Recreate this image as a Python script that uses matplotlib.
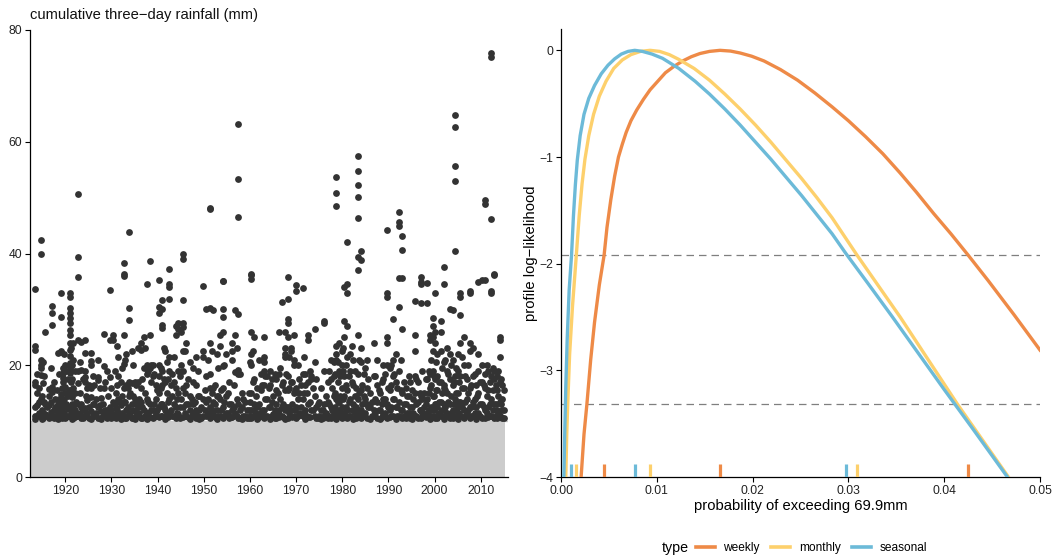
import matplotlib
matplotlib.use("Agg")
import matplotlib.pyplot as plt
from matplotlib.ticker import FormatStrFormatter
from matplotlib.lines import Line2D

plt.rcParams['font.family'] = ['Liberation Sans', 'DejaVu Sans']

# ---- left panel: three-day rainfall totals ----
threshold = 10.0
record_span = [1912.4, 2015.2]

# (decimal year, [three-day totals above threshold]) for the larger wet spells
storms = [
    (1913.5, [33.6, 23.5, 22.8, 17.0, 16.4, 12.5, 11.0, 10.4]),
    (1914.7, [42.5, 40.0, 21.0, 20.1, 19.5, 18.2, 14.0, 10.8]),
    (1915.2, [20.5, 16.8, 11.5, 10.6]),
    (1915.7, [26.0, 13.0, 11.2]),
    (1916.4, [15.8, 14.5, 12.8, 10.5]),
    (1917.2, [30.6, 29.3, 27.2, 16.1, 15.2, 11.0]),
    (1917.8, [14.0, 12.5, 10.9]),
    (1918.4, [22.2, 13.0, 11.6, 10.4]),
    (1919.0, [33.0, 28.6, 22.5, 22.3, 14.9, 12.0, 10.7]),
    (1919.5, [19.5, 18.6, 17.7, 17.0, 13.4, 11.3]),
    (1920.0, [20.0, 16.1, 15.0, 12.5, 10.5]),
    (1920.5, [17.5, 14.5, 12.2, 11.0]),
    (1921.0, [33.0, 32.3, 30.2, 29.3, 28.4, 27.5, 26.3, 25.4, 24.0, 22.8,
              21.6, 20.4, 19.5, 18.6, 14.9, 12.5, 11.0]),
    (1921.5, [20.0, 17.5, 14.3, 13.0, 11.6, 10.3]),
    (1922.0, [19.0, 15.0, 12.0, 10.8]),
    (1922.8, [50.6, 39.4, 35.8, 24.5, 18.9, 16.8, 13.1, 11.0]),
    (1923.4, [24.1, 19.2, 13.1, 12.5, 10.5]),
    (1924.2, [24.5, 22.2, 18.9, 17.9, 17.0, 12.4, 10.9]),
    (1924.8, [16.0, 13.7, 11.5]),
    (1925.6, [22.2, 20.7, 20.1, 15.9, 14.4, 11.8, 10.4]),
    (1926.3, [16.5, 13.1, 11.0]),
    (1927.1, [21.0, 17.9, 17.3, 12.5, 10.6]),
    (1927.8, [14.2, 11.8, 10.3]),
    (1928.4, [25.6, 19.9, 16.0, 11.2]),
    (1929.0, [19.0, 12.0, 10.5]),
    (1929.6, [33.5, 24.5, 17.9, 12.5, 11.0]),
    (1930.3, [25.4, 24.5, 13.5, 11.2]),
    (1931.0, [15.0, 12.3, 10.5]),
    (1931.5, [21.5, 18.0, 14.0, 11.5]),
    (1932.0, [17.0, 12.8, 10.4]),
    (1932.7, [38.3, 36.3, 36.0, 25.5, 20.2, 16.0, 13.5, 11.0]),
    (1933.2, [22.0, 16.5, 12.0, 10.5]),
    (1933.8, [43.9, 30.2, 28.1, 17.0, 14.5, 11.3]),
    (1934.4, [22.5, 16.8, 13.0, 10.6]),
    (1935.0, [17.0, 14.0, 11.8, 10.3]),
    (1935.7, [23.0, 17.0, 12.5, 11.0]),
    (1936.3, [24.0, 22.8, 16.0, 13.5, 10.6]),
    (1937.0, [25.0, 19.5, 12.0]),
    (1937.6, [34.6, 20.0, 18.5, 14.0, 11.5, 10.4]),
    (1938.3, [38.7, 25.5, 19.5, 13.0, 10.8]),
    (1939.0, [20.0, 18.0, 12.0, 10.5]),
    (1939.6, [16.5, 14.0, 11.2]),
    (1940.3, [35.2, 30.5, 29.3, 20.0, 18.0, 15.0, 12.5, 10.7]),
    (1941.0, [31.7, 30.0, 27.2, 26.6, 19.0, 16.5, 13.0, 11.0]),
    (1941.6, [22.5, 17.0, 12.0, 10.4]),
    (1942.5, [37.3, 34.6, 34.0, 31.8, 21.5, 19.0, 14.0, 11.5]),
    (1943.2, [18.5, 14.5, 11.0]),
    (1943.9, [27.0, 25.5, 16.0, 12.5, 10.6]),
    (1944.5, [27.5, 26.5, 19.0, 15.0, 11.2]),
    (1945.5, [39.9, 39.1, 31.7, 27.5, 26.8, 22.5, 19.0, 16.0, 12.5, 10.8]),
    (1946.2, [24.0, 16.5, 13.0, 11.0]),
    (1947.0, [20.5, 14.5, 12.0, 10.4]),
    (1947.7, [19.5, 17.0, 13.0, 11.5]),
    (1948.3, [21.5, 16.5, 12.0, 10.6]),
    (1949.0, [14.5, 12.0, 10.3]),
    (1949.9, [34.2, 22.5, 21.5, 14.0, 11.0]),
    (1950.5, [30.0, 18.0, 13.5, 11.0]),
    (1951.4, [48.2, 47.9, 30.2, 24.0, 18.4, 16.0, 12.5, 10.5]),
    (1952.1, [29.9, 16.0, 13.5, 11.2]),
    (1952.8, [22.0, 14.5, 12.0, 10.4]),
    (1953.5, [25.5, 23.5, 14.0, 11.0]),
    (1954.1, [35.1, 35.0, 30.0, 28.7, 26.0, 19.8, 16.0, 12.5, 10.6]),
    (1954.8, [22.0, 14.5, 11.5]),
    (1955.5, [17.0, 13.0, 10.5]),
    (1956.2, [24.0, 22.5, 21.0, 12.0, 10.8]),
    (1956.8, [29.9, 25.5, 18.8, 11.5]),
    (1957.4, [63.1, 53.4, 46.6, 29.2, 19.1, 18.5, 13.0, 10.5]),
    (1958.2, [15.0, 12.5, 10.4]),
    (1959.0, [13.5, 11.0]),
    (1959.7, [15.0, 12.0, 10.6]),
    (1960.3, [36.3, 36.1, 35.5, 26.0, 22.0, 20.0, 15.0, 12.0, 10.5]),
    (1960.9, [25.0, 17.5, 13.0, 11.0]),
    (1961.6, [16.0, 12.5, 10.4]),
    (1962.3, [18.5, 15.5, 11.5]),
    (1963.0, [25.0, 21.5, 20.5, 19.0, 16.5, 12.0, 10.6]),
    (1963.7, [18.0, 14.0, 11.0]),
    (1964.4, [19.0, 16.5, 12.5, 10.4]),
    (1965.0, [14.5, 11.2]),
    (1965.7, [17.5, 15.5, 13.0, 10.5]),
    (1966.2, [26.0, 18.5, 12.0, 10.8]),
    (1966.9, [31.4, 16.5, 12.5, 11.0]),
    (1967.5, [26.0, 23.0, 22.0, 21.5, 15.5, 12.0, 10.4]),
    (1968.2, [35.8, 31.8, 28.2, 27.5, 25.0, 18.0, 15.5, 12.5, 10.5]),
    (1968.8, [23.0, 22.5, 17.0, 12.0]),
    (1969.5, [25.5, 21.0, 20.0, 15.0, 11.0]),
    (1970.0, [34.3, 33.2, 16.0, 12.5, 10.6]),
    (1970.7, [17.5, 15.0, 11.5]),
    (1971.4, [33.9, 18.5, 14.0, 11.0]),
    (1972.0, [18.5, 16.5, 12.0, 10.4]),
    (1972.6, [25.5, 24.5, 17.0, 13.0, 10.8]),
    (1973.3, [18.0, 17.5, 12.0]),
    (1974.0, [26.5, 20.5, 14.5, 11.0]),
    (1974.7, [13.0, 10.5]),
    (1975.4, [16.0, 12.0, 10.4]),
    (1976.1, [27.9, 27.5, 19.0, 13.0, 11.0]),
    (1976.8, [17.0, 13.5, 10.6]),
    (1977.5, [21.0, 17.5, 12.5, 10.5]),
    (1978.1, [20.5, 18.0, 14.5, 11.5]),
    (1978.7, [53.7, 50.9, 48.5, 23.5, 22.0, 21.0, 14.0, 12.0, 10.4]),
    (1979.3, [24.0, 19.0, 13.5, 11.0]),
    (1979.9, [22.5, 20.0, 16.0, 12.5, 10.6]),
    (1980.4, [34.0, 28.0, 25.0, 18.0, 14.5, 11.5]),
    (1981.1, [42.0, 34.6, 32.9, 27.0, 21.5, 15.5, 12.0, 10.5]),
    (1981.7, [22.0, 19.0, 14.0, 11.0]),
    (1982.3, [21.0, 16.5, 13.0, 10.4]),
    (1983.3, [57.5, 54.8, 52.3, 50.1, 46.3, 39.3, 37.0, 25.5, 18.5, 14.0, 11.5]),
    (1984.0, [40.4, 38.8, 23.0, 20.5, 15.5, 12.0, 10.6]),
    (1984.6, [18.5, 14.5, 11.0]),
    (1985.3, [21.0, 16.0, 13.0, 10.5]),
    (1986.0, [15.0, 12.5, 10.4]),
    (1986.8, [24.0, 18.0, 12.0, 11.0]),
    (1987.5, [21.0, 16.5, 13.5, 10.6]),
    (1988.2, [15.0, 12.0, 10.4]),
    (1988.9, [20.0, 17.5, 14.0, 11.2]),
    (1989.6, [44.2, 33.0, 32.3, 25.0, 24.0, 20.0, 13.0, 10.5]),
    (1990.3, [19.5, 15.5, 12.0, 10.8]),
    (1991.0, [28.2, 21.0, 18.0, 14.0, 11.0]),
    (1991.6, [22.0, 17.0, 12.5, 10.4]),
    (1992.3, [47.5, 45.7, 44.9, 35.7, 30.5, 19.0, 13.5, 11.0]),
    (1993.0, [43.1, 40.6, 35.7, 26.5, 15.0, 12.0, 10.5]),
    (1993.7, [16.0, 13.0, 10.6]),
    (1994.4, [18.0, 14.5, 11.5]),
    (1995.1, [15.5, 12.5, 10.4]),
    (1995.7, [31.5, 25.5, 22.5, 18.0, 15.0, 11.0]),
    (1996.4, [17.0, 13.5, 10.6]),
    (1997.0, [35.8, 34.9, 34.5, 31.2, 14.5, 12.0, 10.5]),
    (1997.7, [15.0, 12.5, 11.0]),
    (1998.4, [34.8, 31.1, 17.5, 14.0, 11.5]),
    (1999.0, [25.5, 24.5, 18.5, 16.0, 12.0, 10.4]),
    (1999.6, [28.5, 27.0, 25.0, 22.5, 19.0, 14.5, 11.0]),
    (2000.0, [32.9, 26.0, 24.0, 17.5, 13.0, 10.6]),
    (2000.6, [22.0, 18.0, 15.5, 12.5, 10.5]),
    (2001.3, [28.0, 26.0, 22.5, 17.0, 13.5, 11.0]),
    (2002.0, [37.5, 34.6, 20.5, 16.0, 12.0, 10.4]),
    (2002.6, [23.0, 19.0, 15.0, 11.5]),
    (2003.3, [30.0, 22.0, 17.5, 13.0, 10.6]),
    (2003.9, [29.9, 21.0, 16.5, 12.0, 10.5]),
    (2004.4, [64.7, 62.6, 55.6, 52.9, 40.4, 18.0, 14.0, 11.0]),
    (2005.0, [22.0, 19.0, 15.0, 12.5, 10.4]),
    (2005.6, [33.0, 32.3, 29.0, 24.0, 18.0, 13.5, 11.0]),
    (2006.3, [25.0, 20.0, 16.0, 12.0, 10.6]),
    (2007.0, [17.5, 14.0, 11.2]),
    (2007.6, [33.3, 32.9, 24.0, 22.5, 16.0, 12.5, 10.5]),
    (2008.3, [23.0, 18.0, 13.5, 11.0]),
    (2009.0, [16.5, 12.5, 10.4]),
    (2009.5, [34.9, 22.0, 19.0, 15.0, 11.5]),
    (2010.3, [35.2, 20.0, 17.0, 13.0, 10.6]),
    (2011.0, [49.6, 48.9, 35.3, 18.5, 16.0, 12.0, 10.5]),
    (2011.6, [19.0, 15.5, 12.5, 10.8]),
    (2012.3, [75.8, 75.2, 46.2, 33.2, 32.9, 18.0, 14.0, 11.0]),
    (2012.9, [36.3, 36.2, 19.0, 17.5, 13.0, 10.5]),
    (2013.5, [18.0, 15.5, 12.0, 10.6]),
    (2014.1, [25.1, 24.5, 21.5, 17.0, 13.5, 11.0]),
    (2014.7, [16.5, 14.0, 12.0, 10.5]),
]

# smaller wet spells that only just clear the threshold
showers = [
    (1913.8, [18.5, 15.0, 12.8, 11.0]), (1914.4, [16.0, 13.5, 11.5]),
    (1915.0, [14.5, 12.0, 10.4]), (1915.45, [18.0, 13.5, 11.0]),
    (1916.0, [12.5, 11.0]), (1916.8, [19.5, 13.5, 11.6]),
    (1917.5, [17.0, 12.0, 10.5]), (1918.1, [15.5, 12.5, 10.8]),
    (1918.7, [18.5, 14.0, 11.2]), (1919.25, [16.0, 12.5, 10.5]),
    (1919.8, [22.0, 14.0, 11.5]), (1920.25, [19.0, 13.0, 10.8]),
    (1920.75, [15.5, 12.5, 11.0]), (1921.25, [23.0, 17.0, 15.5, 12.0]),
    (1921.75, [24.0, 21.0, 16.0, 12.5, 10.5]), (1922.4, [13.5, 11.2]),
    (1923.1, [20.5, 15.0, 11.5]), (1923.8, [17.5, 12.0, 10.6]),
    (1924.5, [14.5, 11.0]), (1925.2, [16.5, 12.5, 10.5]),
    (1925.95, [18.0, 13.0, 11.0]), (1926.7, [14.0, 11.5]),
    (1927.45, [16.0, 12.8, 10.6]), (1928.1, [13.0, 11.0]),
    (1928.7, [17.0, 12.0]), (1929.3, [14.5, 11.2]),
    (1930.0, [16.0, 12.0, 10.5]), (1930.7, [19.0, 13.0, 11.0]),
    (1931.25, [23.5, 16.5, 12.0]), (1931.75, [13.5, 10.8]),
    (1932.35, [19.5, 14.5, 11.5]), (1933.0, [21.0, 13.5, 10.6]),
    (1933.5, [16.0, 12.5, 11.0]), (1934.1, [15.0, 11.5]),
    (1934.75, [20.0, 14.5, 12.0, 10.5]), (1935.35, [16.5, 13.0, 11.0]),
    (1936.0, [14.0, 11.5]), (1936.65, [17.5, 12.5, 10.6]),
    (1937.3, [23.0, 15.0, 11.0]), (1937.95, [19.0, 13.5, 11.5]),
    (1938.65, [20.0, 17.0, 12.0]), (1939.3, [18.5, 13.0, 10.8]),
    (1939.95, [15.5, 12.0]), (1940.65, [19.5, 16.0, 13.0, 11.0]),
    (1941.3, [23.0, 17.5, 12.5]), (1941.95, [20.5, 15.0, 11.5]),
    (1942.2, [17.5, 13.5, 10.8]), (1942.85, [16.5, 12.0]),
    (1943.55, [21.5, 17.0, 13.0, 11.0]), (1944.2, [14.0, 11.5]),
    (1944.85, [18.0, 12.5, 10.6]), (1945.15, [26.0, 20.0, 14.0]),
    (1945.85, [22.5, 15.0, 11.5]), (1946.6, [17.5, 13.0, 10.8]),
    (1947.35, [14.0, 11.0]), (1948.0, [13.5, 11.5]),
    (1948.65, [19.0, 14.5, 11.0]), (1949.45, [12.5, 10.6]),
    (1950.2, [15.5, 12.0]), (1950.85, [21.0, 14.0, 11.5]),
    (1951.75, [22.5, 15.0, 12.0]), (1952.45, [16.5, 13.0, 10.8]),
    (1953.15, [19.5, 14.5, 11.0]), (1953.8, [15.5, 12.0]),
    (1954.45, [20.0, 13.5, 11.0]), (1955.15, [15.0, 11.5]),
    (1955.85, [13.0, 10.8]), (1956.5, [16.5, 12.5]),
    (1957.1, [23.0, 14.0, 11.0]), (1957.8, [18.5, 12.0, 10.5]),
    (1958.6, [14.0, 11.0]), (1959.35, [12.0, 10.6]),
    (1960.0, [20.5, 13.5, 11.0]), (1960.6, [22.5, 17.0, 12.0]),
    (1961.25, [14.5, 11.5]), (1961.95, [21.0, 13.0, 10.8]),
    (1962.65, [16.5, 12.0]), (1963.35, [18.0, 14.0, 11.0]),
    (1964.05, [16.0, 12.5]), (1964.75, [17.5, 13.5, 11.0]),
    (1965.35, [18.5, 12.0, 10.6]), (1966.0, [15.0, 11.5]),
    (1966.55, [19.5, 14.0, 11.0]), (1967.2, [17.0, 13.0, 10.8]),
    (1967.85, [18.5, 12.5]), (1968.5, [21.5, 16.0, 11.5]),
    (1969.15, [17.0, 13.0, 10.8]), (1969.8, [15.5, 12.0]),
    (1970.35, [20.0, 14.0, 11.0]), (1971.05, [16.5, 12.5]),
    (1971.7, [21.5, 15.0, 11.5]), (1972.3, [15.0, 11.0]),
    (1972.95, [19.0, 13.5, 10.8]), (1973.65, [16.0, 12.0]),
    (1974.35, [17.5, 12.5, 10.6]), (1975.05, [13.5, 11.0]),
    (1975.75, [12.0, 10.5]), (1976.45, [14.5, 11.5]),
    (1977.15, [19.0, 13.0, 11.0]), (1977.85, [16.0, 12.0]),
    (1978.4, [18.5, 15.0, 12.5, 11.0]), (1979.0, [20.5, 17.0, 13.5, 11.5]),
    (1979.6, [18.0, 14.5, 12.0]), (1980.15, [23.0, 19.0, 14.0, 11.0]),
    (1980.75, [20.0, 16.5, 12.5]), (1981.4, [18.0, 13.5, 11.0]),
    (1982.0, [23.5, 17.0, 12.0]), (1982.65, [19.0, 14.5, 11.5]),
    (1982.95, [16.0, 12.5, 10.6]), (1983.65, [21.0, 15.0, 12.0]),
    (1984.3, [16.5, 13.0, 11.0]), (1984.95, [19.5, 14.0, 11.5]),
    (1985.65, [17.5, 12.5]), (1986.4, [13.5, 11.0]),
    (1987.15, [18.0, 14.0, 11.5]), (1987.85, [15.5, 12.0]),
    (1988.55, [17.0, 13.0, 10.8]), (1989.25, [18.5, 14.0, 11.5]),
    (1989.95, [16.0, 12.5]), (1990.65, [20.0, 16.5, 12.5, 11.0]),
    (1991.3, [18.5, 14.0]), (1991.95, [16.0, 12.5, 11.0]),
    (1992.65, [21.0, 15.5, 12.0]), (1993.35, [17.0, 13.0, 11.0]),
    (1994.05, [14.5, 11.5]), (1994.75, [17.0, 12.5, 10.6]),
    (1995.4, [14.0, 11.5]), (1996.05, [17.5, 13.0, 11.0]),
    (1996.75, [15.0, 12.0]), (1997.35, [19.0, 14.0, 11.5]),
    (1998.05, [17.5, 13.0, 10.8]), (1998.7, [19.0, 15.0, 12.0]),
    (1999.3, [21.0, 16.5, 12.5, 11.0]), (1999.85, [18.0, 14.5, 12.0]),
    (2000.3, [20.5, 15.5, 13.0, 11.0]), (2000.95, [17.0, 13.5, 11.5]),
    (2001.6, [19.5, 15.0, 12.0]), (2001.95, [16.5, 13.0, 11.0]),
    (2002.3, [21.0, 15.5, 12.5]), (2002.95, [18.5, 13.5, 11.0]),
    (2003.6, [20.0, 14.5, 11.5]), (2004.15, [17.0, 13.0, 11.0]),
    (2004.7, [19.5, 15.0, 12.0]), (2005.3, [17.0, 13.5, 11.5]),
    (2005.95, [21.5, 16.0, 12.5]), (2006.65, [18.0, 13.5, 11.0]),
    (2007.3, [20.0, 15.0, 12.0]), (2007.95, [16.5, 12.5, 11.0]),
    (2008.65, [18.5, 14.0, 11.5]), (2009.25, [14.5, 11.0]),
    (2009.85, [17.0, 13.0, 11.0]), (2010.65, [16.5, 12.5]),
    (2011.3, [20.0, 14.5, 11.5]), (2011.95, [17.0, 13.0, 11.0]),
    (2012.6, [19.5, 15.5, 12.0]), (2013.2, [16.5, 13.0, 11.0]),
    (2013.8, [19.0, 14.5, 11.5]), (2014.45, [17.5, 13.0, 10.8]),
    (2014.95, [15.5, 12.0, 10.6]),
]

year_ticks = [1920, 1930, 1940, 1950, 1960, 1970, 1980, 1990, 2000, 2010]
rain_ticks = [0, 20, 40, 60, 80]

# ---- right panel: profile log-likelihood of exceedance probability ----
types = ['weekly', 'monthly', 'seasonal']
colours = ['#EE8A47', '#FDD06C', '#6CBAD8']

weekly_p = [0.0021, 0.0024, 0.0027, 0.0031, 0.0035, 0.0040, 0.0045, 0.0048,
            0.0052, 0.0056, 0.0060, 0.0064, 0.0068, 0.0073, 0.0079, 0.0086,
            0.0093, 0.0101, 0.0109, 0.0118, 0.0127, 0.0136, 0.0145, 0.0155,
            0.0166, 0.0177, 0.0187, 0.0199, 0.0212, 0.0229, 0.0247, 0.0265,
            0.0283, 0.0300, 0.0318, 0.0336, 0.0354, 0.0371, 0.0389, 0.0407,
            0.0425, 0.0446, 0.0473, 0.0500]
weekly_ll = [-4.0, -3.6, -3.32, -2.9, -2.55, -2.2, -1.92, -1.66,
             -1.40, -1.18, -1.0, -0.88, -0.77, -0.66, -0.56, -0.46,
             -0.37, -0.29, -0.21, -0.15, -0.10, -0.06, -0.03, -0.01,
             0.0, -0.007, -0.025, -0.055, -0.10, -0.18, -0.28, -0.40,
             -0.53, -0.66, -0.81, -0.97, -1.15, -1.33, -1.53, -1.72,
             -1.92, -2.16, -2.48, -2.81]

monthly_p = [0.0005, 0.0006, 0.0007, 0.0009, 0.0012, 0.0016, 0.0019, 0.0022,
             0.0025, 0.0029, 0.0034, 0.0040, 0.0047, 0.0055, 0.0064, 0.0073,
             0.0083, 0.0093, 0.0103, 0.0113, 0.0123, 0.0139, 0.0155, 0.0171,
             0.0187, 0.0203, 0.0219, 0.0235, 0.0251, 0.0267, 0.0283, 0.0309,
             0.0354, 0.0414, 0.0467]
monthly_ll = [-4.0, -3.6, -3.32, -2.85, -2.4, -1.92, -1.55, -1.25,
              -1.02, -0.80, -0.60, -0.43, -0.29, -0.17, -0.09, -0.04,
              -0.01, 0.0, -0.01, -0.04, -0.085, -0.17, -0.28, -0.41,
              -0.55, -0.70, -0.86, -1.03, -1.20, -1.38, -1.57, -1.92,
              -2.5, -3.32, -4.0]

seasonal_p = [0.0003, 0.0004, 0.0005, 0.00065, 0.00085, 0.0011, 0.0013,
              0.0015, 0.0017, 0.0020, 0.0024, 0.0029, 0.0035, 0.0042, 0.0049,
              0.0056, 0.0063, 0.0070, 0.0077, 0.0085, 0.0095, 0.0106, 0.0123,
              0.0140, 0.0155, 0.0171, 0.0187, 0.0203, 0.0219, 0.0235, 0.0251,
              0.0267, 0.0283, 0.0297, 0.0320, 0.0346, 0.0373, 0.0400, 0.0430,
              0.0466]
seasonal_ll = [-4.0, -3.55, -3.15, -2.70, -2.25, -1.92, -1.55,
               -1.26, -1.03, -0.80, -0.60, -0.45, -0.33, -0.22, -0.14,
               -0.08, -0.035, -0.01, 0.0, -0.01, -0.035, -0.075, -0.17,
               -0.29, -0.41, -0.55, -0.70, -0.86, -1.02, -1.19, -1.36,
               -1.54, -1.72, -1.90, -2.18, -2.50, -2.84, -3.18, -3.55,
               -4.0]

# lower bound, estimate, upper bound
weekly_ci = [0.0045, 0.0166, 0.0425]
monthly_ci = [0.0016, 0.0093, 0.0309]
seasonal_ci = [0.00105, 0.0077, 0.0297]

cutoffs = [-1.92, -3.32]
prob_ticks = [0.0, 0.01, 0.02, 0.03, 0.04, 0.05]
ll_ticks = [-4, -3, -2, -1, 0]

W, H = 1052, 557
fig = plt.figure(figsize=(W / 100, H / 100), dpi=100)
ax1 = fig.add_axes([30 / W, 1 - 477 / H, 478 / W, 447 / H])
ax2 = fig.add_axes([561 / W, 1 - 477 / H, 479 / W, 448 / H])

tick_size = 8.7
label_size = 10.6

for ax in (ax1, ax2):
    for side in ('top', 'right'):
        ax.spines[side].set_visible(False)
    for side in ('left', 'bottom'):
        ax.spines[side].set_linewidth(0.9)
        ax.spines[side].set_color('black')
    ax.tick_params(length=3.5, width=0.8, colors='black', labelsize=tick_size,
                   labelcolor='#222222', pad=2)

# below-threshold observations form a solid band
ax1.fill_between(record_span, 0, threshold, color='#cccccc', lw=0, zorder=1)
ax1.axhline(threshold, color='#cccccc', lw=1.0, zorder=1)
spells = storms + showers
xs = [t for t, vals in spells for v in vals]
ys = [v for t, vals in spells for v in vals]
ax1.scatter(xs, ys, s=24, c='#333333', linewidths=0, zorder=3, clip_on=False)
ax1.set_xlim(1912.35, 2015.9)
ax1.set_ylim(0, 80)
ax1.set_xticks(year_ticks)
ax1.set_yticks(rain_ticks)
fig.text(30 / W, 1 - 15 / H, 'cumulative three\u2212day rainfall (mm)',
         fontsize=label_size, ha='left', va='center', color='#111111')

curves = [(weekly_p, weekly_ll, weekly_ci),
          (monthly_p, monthly_ll, monthly_ci),
          (seasonal_p, seasonal_ll, seasonal_ci)]
for (p, ll, ci), name, col in zip(curves, types, colours):
    ax2.plot(p, ll, color=col, lw=2.4, solid_joinstyle='round', label=name,
             zorder=3)
    ax2.vlines(ci, 0, 0.03, transform=ax2.get_xaxis_transform(), color=col,
               lw=2.3, zorder=4)
for c in cutoffs:
    ax2.axhline(c, color='#7f7f7f', lw=0.9, ls=(0, (6, 4)), zorder=2)
ax2.set_xlim(0, 0.05)
ax2.set_ylim(-4, 0.2)
ax2.set_xticks(prob_ticks)
ax2.set_yticks(ll_ticks)
ax2.xaxis.set_major_formatter(FormatStrFormatter('%.2f'))
ax2.set_xlabel('probability of exceeding 69.9mm', fontsize=label_size,
               labelpad=2)
ax2.set_ylabel('profile log\u2212likelihood', fontsize=label_size, labelpad=1)

handles = [Line2D([], [], color=c, lw=2.6) for c in colours]
fig.text(662 / W, 1 - 548 / H, 'type', fontsize=10.3, ha='left', va='center')
fig.legend(handles, types, loc='center left',
           bbox_to_anchor=(696 / W, 1 - 548 / H), ncol=3, frameon=False,
           fontsize=8.6, handlelength=1.6, handletextpad=0.7,
           columnspacing=0.95, borderpad=0, borderaxespad=0)

fig.savefig('out.png', dpi=100)
